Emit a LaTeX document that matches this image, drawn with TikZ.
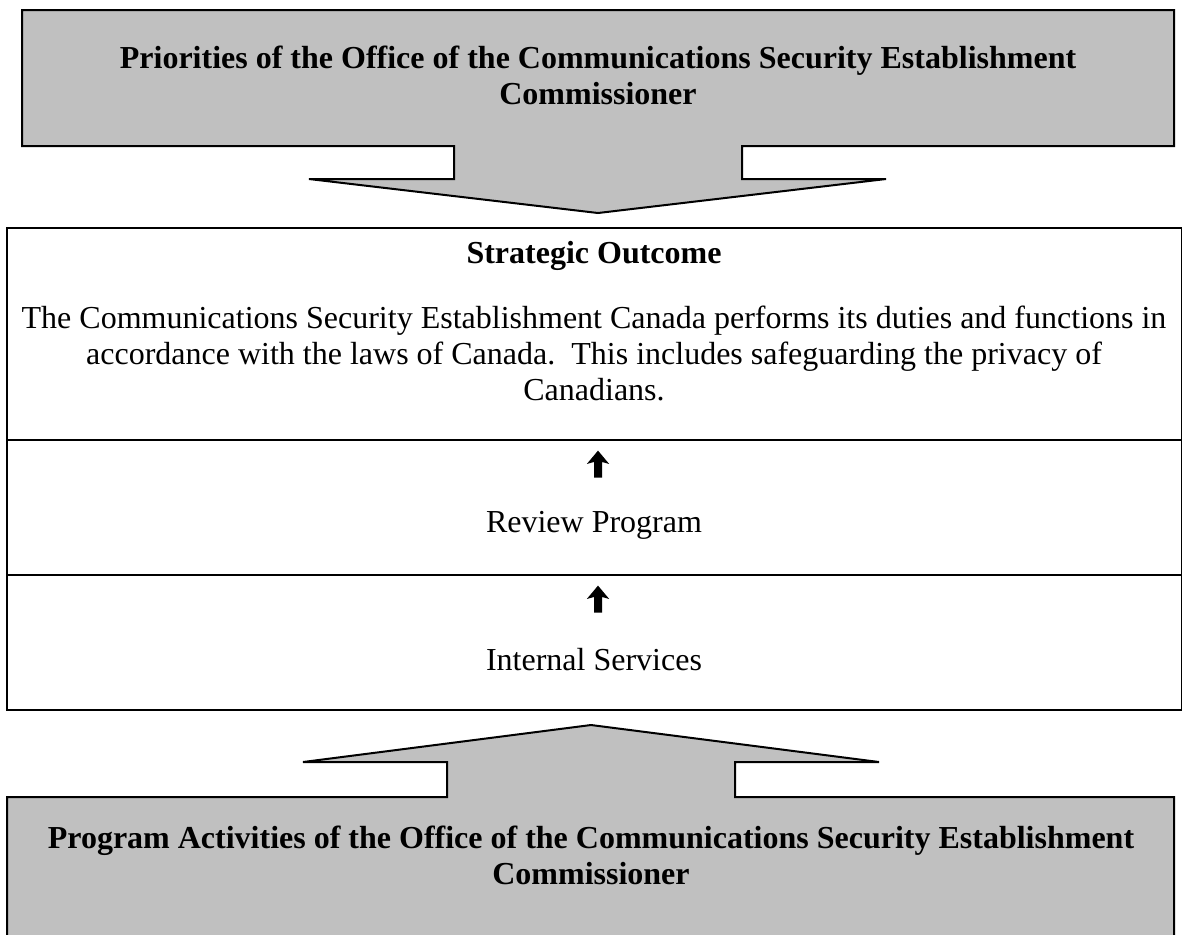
\documentclass[tikz,border=0pt]{standalone}
\usepackage{fontspec}
\setmainfont{Liberation Serif}
\usetikzlibrary{positioning,shapes.arrows}

\begin{document}
\begin{tikzpicture}[x=0.5pt,y=-0.5pt]
    \definecolor{boxgray}{RGB}{192,192,192}
    \fontsize{16}{18}\selectfont  % text size
    \tikzstyle{callout}=[draw,fill=boxgray,line width=1pt,line join=miter]  % gray box with arrow
    \tikzstyle{cell}=[rectangle,draw,line width=1.4pt,minimum width=587.5pt,outer sep=0pt,inner sep=0pt]  % table row
    \tikzstyle{headtext}=[align=center,font=\bfseries]
    \tikzstyle{bodytext}=[align=center]
    \tikzstyle{uparrow}=[single arrow,draw=none,fill=black,shape border rotate=90,minimum height=13.5pt,
        inner sep=1.8pt,single arrow head extend=3.6pt,single arrow tip angle=80,single arrow head indent=1pt]

    \useasboundingbox (0,0) rectangle (1182,934);

    % priorities, arrow pointing down
    \filldraw[callout] (22,10) -- (1174,10) -- (1174,146) -- (742,146) -- (742,179) -- (886,179)
        -- (598,213) -- (309,179) -- (454,179) -- (454,146) -- (22,146) -- cycle;
    \node[headtext] (prio) at (598,75) {Priorities of the Office of the Communications Security Establishment\\Commissioner};

    % table
    \node[cell,minimum height=106pt] (outcome) at (594.5,334) {};
    \node[cell,minimum height=67.5pt,below=0pt of outcome] (review) {};
    \node[cell,minimum height=67.5pt,below=0pt of review] (intsvc) {};

    \node[headtext] (sotitle) at (594,256) {Strategic Outcome};
    \node[bodytext] (sotext) at (594,353) {The Communications Security Establishment Canada performs its duties and functions in\\
        accordance with the laws of Canada.\ \ This includes safeguarding the privacy of\\Canadians.};
    \node[uparrow] (up1) at (598,466.5) {};
    \node[bodytext] (revtext) at (594,525) {Review Program};
    \node[uparrow] (up2) at (598,601.5) {};
    \node[bodytext] (inttext) at (594,660) {Internal Services};

    % program activities, arrow pointing up
    \filldraw[callout] (7,945) -- (1174,945) -- (1174,797) -- (735,797) -- (735,762) -- (879,762)
        -- (591,725) -- (303,762) -- (447,762) -- (447,797) -- (7,797) -- cycle;
    \node[headtext] (progact) at (591,855) {Program Activities of the Office of the Communications Security Establishment\\Commissioner};
\end{tikzpicture}
\end{document}
